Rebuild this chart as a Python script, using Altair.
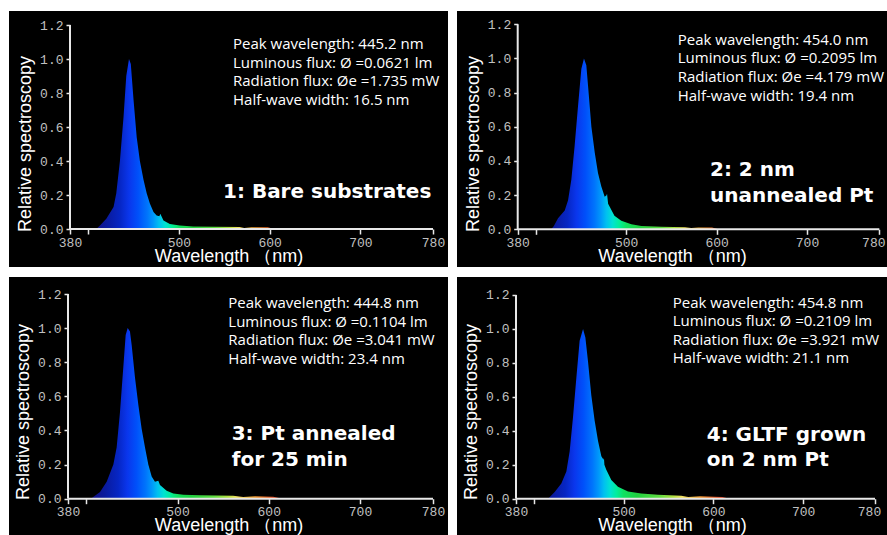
import altair as alt
import pandas as pd

# ---------------- data ----------------
# Panel 1: bare substrates
wl1 = [400, 409, 413, 420, 428, 431, 435, 439, 442, 445, 447, 450, 453.5, 457, 461, 464.5,
       468, 472, 475.5, 478.5, 479.5, 483, 490, 501, 516, 540, 567, 572, 580, 598, 605, 625]
sp1 = [0, 0, 0.02, 0.06, 0.13, 0.21, 0.40, 0.66, 0.90, 1.00, 0.97, 0.76, 0.54, 0.40, 0.29, 0.21,
       0.15, 0.10, 0.08, 0.075, 0.09, 0.05, 0.03, 0.02, 0.015, 0.013, 0.012, 0.006, 0.01, 0.01, 0, 0]

# Panel 2: 2 nm unannealed Pt
wl2 = [400, 417, 420, 424.6, 432, 435.7, 439.3, 443, 446.7, 450.4, 453.3, 455.9, 457.8, 461.5,
       465.2, 468.8, 472.5, 476.2, 478.3, 478.8, 480, 487, 494.6, 505.7, 516.8, 539, 565, 572,
       580, 595, 602, 625]
sp2 = [0, 0, 0.02, 0.065, 0.11, 0.17, 0.29, 0.49, 0.72, 0.94, 1.00, 0.96, 0.84, 0.60,
       0.45, 0.33, 0.25, 0.19, 0.20, 0.21, 0.15, 0.08, 0.05, 0.03, 0.02, 0.015, 0.012, 0.007,
       0.01, 0.01, 0, 0]

# Panel 3: Pt annealed for 25 min
wl3 = [400, 405, 415.1, 422.4, 429.7, 433.3, 437, 440.6, 443.2, 445.4, 447.9, 449.8, 453.4,
       457.1, 460.7, 464.4, 468, 471.7, 475.3, 479, 480.8, 488.1, 495.4, 506.4, 524.7, 561,
       572, 585, 605, 615, 625]
sp3 = [0, 0, 0.04, 0.10, 0.20, 0.30, 0.51, 0.77, 0.96, 1.00, 0.98, 0.90, 0.71,
       0.55, 0.41, 0.30, 0.20, 0.13, 0.10, 0.105, 0.08, 0.047, 0.03, 0.023, 0.02, 0.017,
       0.01, 0.015, 0.012, 0, 0]

# Panel 4: GLTF grown on 2 nm Pt
wl4 = [400, 415.7, 423.1, 430.5, 436.1, 439.8, 443.5, 447.2, 450.9, 454.7, 457.3, 460.2,
       463.9, 467.6, 471.4, 475.1, 477.5, 478, 478.5, 480.6, 486.2, 493.6, 504.8, 519.6,
       538.2, 564.2, 572, 585, 610, 618, 625]
sp4 = [0, 0, 0.04, 0.09, 0.16, 0.28, 0.48, 0.71, 0.93, 1.00, 0.95, 0.81,
       0.61, 0.46, 0.34, 0.25, 0.23, 0.24, 0.20, 0.17, 0.11, 0.07, 0.043, 0.03,
       0.024, 0.018, 0.01, 0.015, 0.01, 0, 0]

labels = [["1: Bare substrates"],
          ["2: 2 nm", "unannealed Pt"],
          ["3: Pt annealed", "for 25 min"],
          ["4: GLTF grown", "on 2 nm Pt"]]

info = [
    ["Peak wavelength: 445.2 nm", "Luminous flux: Ø =0.0621 lm",
     "Radiation flux: Øe =1.735 mW", "Half-wave width: 16.5 nm"],
    ["Peak wavelength: 454.0 nm", "Luminous flux: Ø =0.2095 lm",
     "Radiation flux: Øe =4.179 mW", "Half-wave width: 19.4 nm"],
    ["Peak wavelength: 444.8 nm", "Luminous flux: Ø =0.1104 lm",
     "Radiation flux: Øe =3.041 mW", "Half-wave width: 23.4 nm"],
    ["Peak wavelength: 454.8 nm", "Luminous flux: Ø =0.2109 lm",
     "Radiation flux: Øe =3.921 mW", "Half-wave width: 21.1 nm"],
]

x_ticks = [380, 400, 500, 600, 700, 780]
y_ticks = [0.0, 0.2, 0.4, 0.6, 0.8, 1.0, 1.2]

# spectral colour stops (wavelength -> colour)
grad_wl = [400, 420, 435, 445, 455, 465, 472, 478, 485, 492, 500, 515, 540, 555, 565, 575, 590, 605, 625]
grad_col = ["#160a78", "#0a1a9c", "#0626c4", "#0a36ec", "#0050fa", "#0074fc", "#0098fa",
            "#00c0f0", "#00e2d2", "#00ee9c", "#10e060", "#20d040", "#60dc40", "#b0e040",
            "#f0e060", "#f0c040", "#f08a30", "#e04a20", "#c02010"]

# ---------------- panel geometry ----------------
panels = [
    dict(wl=wl1, sp=sp1, w=439, h=256, xdom=[312.78, 796.53], ydom=[-0.2235, 1.2824],
         info_xy=(559.6, 1.058), lab_xy=(548.6, 0.184), clip=False,
         xtitle_y=32.5, ytitle_y=132.5, last_shift=0, lpad=2),
    dict(wl=wl2, sp=sp2, w=430, h=256, xdom=[312.85, 788.5], ydom=[-0.2207, 1.278],
         info_xy=(557.0, 1.080), lab_xy=(592.7, 0.312), clip=True,
         xtitle_y=32.5, ytitle_y=132.5, last_shift=-6, lpad=2),
    dict(wl=wl3, sp=sp3, w=439, h=258, xdom=[315.34, 796.44], ydom=[-0.2128, 1.2997],
         info_xy=(555.7, 1.117), lab_xy=(559.4, 0.344), clip=False,
         xtitle_y=32.0, ytitle_y=134.5, last_shift=0, lpad=2),
    dict(wl=wl4, sp=sp4, w=430, h=258, xdom=[314.26, 793.37], ydom=[-0.2138, 1.306],
         info_xy=(554.6, 1.126), lab_xy=(592.5, 0.342), clip=True,
         xtitle_y=32.0, ytitle_y=134.5, last_shift=-6, lpad=2),
]

AXIS_COL = "#e8e8e8"
LABEL_COL = "#c0c0c0"


def make_panel(p, info_lines, label_lines):
    xs = alt.Scale(domain=p["xdom"], nice=False, zero=False)
    ys = alt.Scale(domain=p["ydom"], nice=False, zero=False)
    # axis offsets so that the axes sit at wavelength 380 / intensity 0 inside the black panel
    x_off = -(0 - p["ydom"][0]) * p["h"] / (p["ydom"][1] - p["ydom"][0])
    y_off = -(x_ticks[0] - p["xdom"][0]) * p["w"] / (p["xdom"][1] - p["xdom"][0])

    xa = alt.Axis(
        values=x_ticks, offset=x_off, domain=False, grid=False, zindex=1,
        labelExpr="datum.value == 400 ? '' : datum.label",
        tickSize=5, tickColor=AXIS_COL, tickWidth=1.5,
        labelFont="Liberation Mono", labelFontSize=13, labelColor=LABEL_COL,
        labelPadding=p["lpad"], labelFlush=False,
        labelOffset={"condition": {"test": f"datum.value == {x_ticks[-1]}",
                                   "value": p["last_shift"]}, "value": 0},
        title="Wavelength\u00a0（nm)", titleFont="Liberation Sans", titleFontSize=18,
        titleColor="white", titleFontWeight="normal",
        titleBaseline="alphabetic", titleY=p["xtitle_y"])
    ya = alt.Axis(
        values=y_ticks, format=".1f", offset=y_off, domain=False, grid=False, zindex=1,
        tickSize=4, tickColor=AXIS_COL, tickWidth=1.5,
        labelFont="Liberation Mono", labelFontSize=13, labelColor=LABEL_COL,
        labelPadding=3,
        title="Relative spectroscopy", titleFont="Liberation Sans", titleFontSize=18,
        titleColor="white", titleFontWeight="normal", titlePadding=5,
        titleY=p["ytitle_y"])

    lo, hi = min(p["wl"]), max(p["wl"])
    grad = alt.Gradient(
        gradient="linear", x1=0, x2=1, y1=0, y2=0,
        stops=[alt.GradientStop(color=c, offset=(g - lo) / (hi - lo))
               for g, c in zip(grad_wl, grad_col)])

    df = pd.DataFrame({"wl": p["wl"], "val": p["sp"]})
    area = alt.Chart(df).mark_area(color=grad, clip=True).encode(
        x=alt.X("wl:Q", scale=xs, axis=xa),
        y=alt.Y("val:Q", scale=ys, axis=ya),
        y2=alt.Y2(datum=0),
    )

    base_rule = alt.Chart(pd.DataFrame({"a": [0]}))
    x_line = base_rule.mark_rule(color=AXIS_COL, strokeWidth=2).encode(
        x=alt.X(datum=x_ticks[0], scale=xs, axis=xa),
        x2=alt.X2(datum=x_ticks[-1]),
        y=alt.Y(datum=y_ticks[0], scale=ys, axis=ya))
    y_line = base_rule.mark_rule(color=AXIS_COL, strokeWidth=2).encode(
        x=alt.X(datum=x_ticks[0], scale=xs, axis=xa),
        y=alt.Y(datum=y_ticks[0], scale=ys, axis=ya),
        y2=alt.Y2(datum=y_ticks[-1]))

    info_txt = alt.Chart(pd.DataFrame({"t": ["\n".join(info_lines)]})).mark_text(
        align="left", baseline="alphabetic", lineBreak="\n", lineHeight=18.6,
        font="Open Sans", fontSize=15, color="white", clip=p["clip"]).encode(
        x=alt.X(datum=p["info_xy"][0], scale=xs, axis=xa),
        y=alt.Y(datum=p["info_xy"][1], scale=ys, axis=ya),
        text="t:N")

    lab_txt = alt.Chart(pd.DataFrame({"t": ["\n".join(label_lines)]})).mark_text(
        align="left", baseline="alphabetic", lineBreak="\n", lineHeight=25.5,
        font="DejaVu Sans", fontWeight="bold", fontSize=20, color="white").encode(
        x=alt.X(datum=p["lab_xy"][0], scale=xs, axis=xa),
        y=alt.Y(datum=p["lab_xy"][1], scale=ys, axis=ya),
        text="t:N")

    return alt.layer(area, x_line, y_line, info_txt, lab_txt).properties(
        width=p["w"], height=p["h"])


charts = [make_panel(p, info[i], labels[i]) for i, p in enumerate(panels)]

chart = alt.vconcat(
    alt.hconcat(charts[0], charts[1], spacing=9),
    alt.hconcat(charts[2], charts[3], spacing=9),
    spacing=10,
).properties(
    padding={"left": 9, "top": 11, "right": 0, "bottom": 0},
    background="white",
).configure_view(fill="black", stroke=None)

chart.save("out.html", embed_options={"renderer": "svg", "actions": False})
